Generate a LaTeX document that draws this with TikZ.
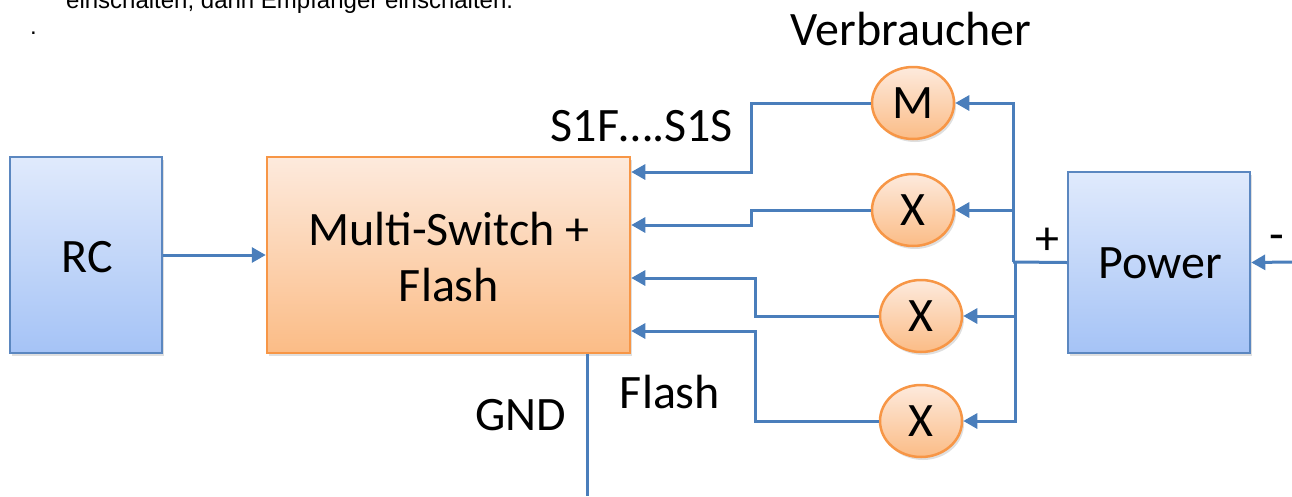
\documentclass[tikz,border=0pt]{standalone}
\usepackage{fontspec}
\setmainfont{Carlito}
\newfontfamily\notefont{Liberation Sans}
\usetikzlibrary{arrows.meta,shapes.geometric,shadows,positioning}

\definecolor{wireblue}{HTML}{4A7EBB}
\definecolor{boxline}{HTML}{5B87C0}
\definecolor{bluetop}{HTML}{E0EAFC}
\definecolor{bluebot}{HTML}{A5C3F6}
\definecolor{orline}{HTML}{F79646}
\definecolor{ortop}{HTML}{FDEADD}
\definecolor{orbot}{HTML}{FBBC86}

\tikzset{
  wire/.style = {draw = wireblue, line width = 3pt},
  arr/.style = {wire, -{Triangle[length = 14pt, width = 15pt]}},
  bluebox/.style = {draw = boxline, line width = 2.5pt, top color = bluetop, bottom color = bluebot,
    inner sep = 0pt, drop shadow = {shadow xshift = 2pt, shadow yshift = -3pt, opacity = 0.25, fill = gray}},
  orbox/.style = {draw = orline, line width = 2.5pt, top color = ortop, bottom color = orbot,
    inner sep = 0pt, drop shadow = {shadow xshift = 2pt, shadow yshift = -3pt, opacity = 0.25, fill = gray}},
  load/.style = {orbox, ellipse, minimum width = 82pt, minimum height = 72pt},
}

\begin{document}
\begin{tikzpicture}[x = 1pt, y = -1pt, font = \fontsize{48}{57}\selectfont]
    \useasboundingbox (0,0) rectangle (1292,496);

    % cut-off note above
    \node[anchor = base west, inner sep = 0pt, font = \notefont\fontsize{24}{28}\selectfont] (note) at (66,8)
      {einschalten, dann Empfänger einschalten.};
    \node[anchor = base west, inner sep = 0pt, font = \notefont\fontsize{24}{28}\selectfont] (dot) at (30,34) {.};

    % blocks
    \node[bluebox, minimum width = 152pt, minimum height = 196pt] (rc) at (86,255) {};
    \node[anchor = base] at (87,272) {RC};
    \node[orbox, minimum width = 363pt, minimum height = 196pt] (ms) at (448.5,255) {};
    \node[anchor = base] at (449,245) {Multi-Switch +};
    \node[anchor = base] at (449,301) {Flash};
    \node[bluebox, minimum width = 182pt, minimum height = 181pt] (pw) at (1159,262.5) {};
    \node[anchor = base] at (1160,278) {Power};

    % loads
    \node[load] (m) at (913,103) {M};
    \node[load] (x1) at (913,210) {X};
    \node[load] (x2) at (921,316) {X};
    \node[load] (x3) at (921,421) {X};

    \coordinate (bus) at (1013,262);
    \coordinate (busl) at (1015,262);
    \coordinate (neg) at (1292,262);
    \coordinate (gnd) at (587,496);

    % signal lines
    \draw[arr] (rc.east) -- (ms.west);
    \draw[arr] (m.west) -- (751,103) |- (ms.east |- 0,172);
    \draw[arr] (x1.west) -- (751,210) |- (ms.east |- 0,225);
    \draw[arr] (x2.west) -- (755,316) |- (ms.east |- 0,278);
    \draw[arr] (x3.west) -- (755,421) |- (ms.east |- 0,331);
    \draw[wire] (ms.south -| gnd) -- (gnd);

    % supply
    \draw[wire] (pw.west) -- (bus);
    \draw[arr] (bus) |- (m.east);
    \draw[arr] (bus) |- (x1.east);
    \draw[arr] (busl) |- (x2.east);
    \draw[arr] (busl) |- (x3.east);
    \draw[arr] (neg) -- (pw.east);

    % labels
    \node[anchor = base] (verb) at (911,45) {Verbraucher};
    \node[anchor = base] (sig) at (642,141) {S1F….S1S};
    \node[anchor = base] (fl) at (670,408) {Flash};
    \node[anchor = base] (gndl) at (521,430) {GND};
    \node (plus) at (1047,241) {+};
    \node (minus) at (1277,243) {-};
\end{tikzpicture}
\end{document}
